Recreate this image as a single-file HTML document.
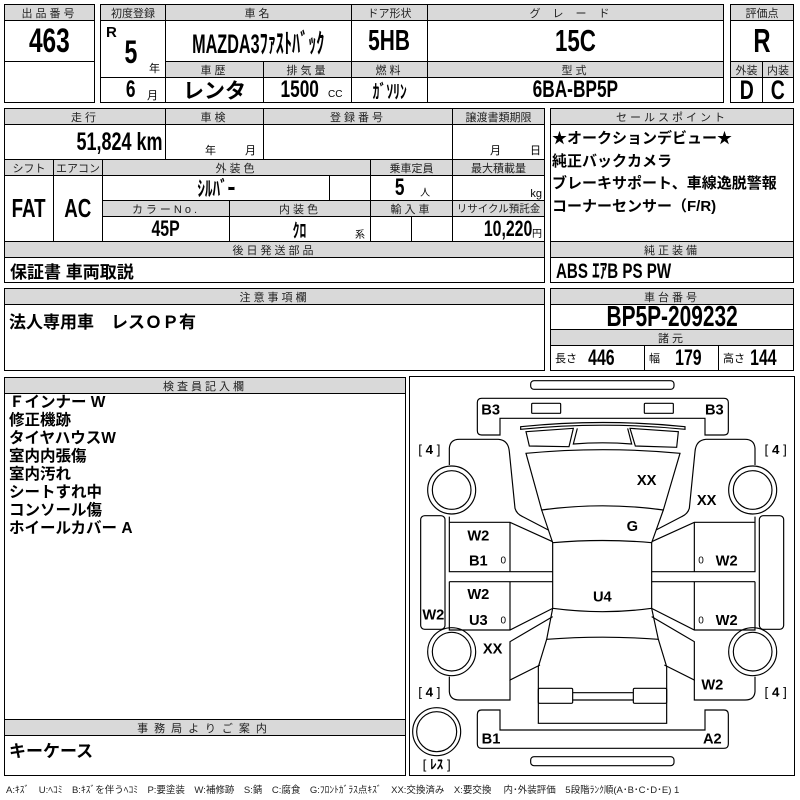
<!DOCTYPE html>
<html><head><meta charset="utf-8">
<style>
*{margin:0;padding:0;box-sizing:border-box}
body{width:800px;height:800px;background:#fff;position:relative;overflow:hidden;font-family:"Liberation Sans","Noto Sans CJK JP",sans-serif;color:#000}
.c{position:absolute;border:1px solid #000;display:flex;align-items:center;justify-content:center;white-space:nowrap;overflow:visible}
.h{background:#d9d9d9;font-size:11px;letter-spacing:3px;color:#222}
.v{font-weight:bold;font-size:22px}
.n{transform:scaleX(0.72);display:inline-block}
.l{justify-content:flex-start;padding-left:5px}
.t{position:absolute;white-space:nowrap}
</style></head><body>
<!-- box1 -->
<div class="c h" style="left:4px;top:4px;width:91px;height:17px">出品番号</div>
<div class="c v" style="left:4px;top:20px;width:91px;height:42px;font-size:34px"><span class="n">463</span></div>
<div class="c" style="left:4px;top:61px;width:91px;height:42px"></div>
<!-- box2 -->
<div class="c h" style="left:100px;top:4px;width:66px;height:17px;letter-spacing:0">初度登録</div>
<div class="c" style="left:100px;top:20px;width:66px;height:58px"></div>
<div class="t" style="left:106px;top:24px;font-size:15px;font-weight:bold">R</div>
<div class="t" style="left:122px;top:34px;font-size:32px;font-weight:bold"><span class="n">5</span></div>
<div class="t" style="left:149px;top:60px;font-size:11px">年</div>
<div class="c" style="left:100px;top:77px;width:66px;height:26px"></div>
<div class="t" style="left:124px;top:76px;font-size:24px;font-weight:bold"><span class="n">6</span></div>
<div class="t" style="left:147px;top:87px;font-size:11px">月</div>
<div class="c h" style="left:165px;top:4px;width:187px;height:17px">車名</div>
<div class="c v" style="left:165px;top:20px;width:187px;height:42px;font-size:27px"><span class="n" style="transform:scaleX(0.6)">MAZDA3ﾌｧｽﾄﾊﾞｯｸ</span></div>
<div class="c h" style="left:351px;top:4px;width:77px;height:17px;letter-spacing:0">ドア形状</div>
<div class="c v" style="left:351px;top:20px;width:77px;height:42px;font-size:29px"><span class="n">5HB</span></div>
<div class="c h" style="left:427px;top:4px;width:297px;height:17px;letter-spacing:12px">グレード</div>
<div class="c v" style="left:427px;top:20px;width:297px;height:42px;font-size:31px"><span class="n">15C</span></div>
<div class="c h" style="left:165px;top:61px;width:99px;height:17px">車歴</div>
<div class="c h" style="left:263px;top:61px;width:89px;height:17px">排気量</div>
<div class="c h" style="left:351px;top:61px;width:77px;height:17px">燃料</div>
<div class="c h" style="left:427px;top:61px;width:297px;height:17px">型式</div>
<div class="c v" style="left:165px;top:77px;width:99px;height:26px;font-size:21px">レンタ</div>
<div class="c v" style="left:263px;top:77px;width:89px;height:26px;font-size:24px"><span class="n">1500</span><span style="font-size:10px;font-weight:normal;margin-left:2px;margin-top:8px">CC</span></div>
<div class="c v" style="left:351px;top:77px;width:77px;height:26px;font-size:19px"><span class="n">ｶﾞｿﾘﾝ</span></div>
<div class="c v" style="left:427px;top:77px;width:297px;height:26px;font-size:24px"><span class="n">6BA-BP5P</span></div>
<!-- box3 -->
<div class="c h" style="left:730px;top:4px;width:64px;height:17px;letter-spacing:0">評価点</div>
<div class="c v" style="left:730px;top:20px;width:64px;height:42px;font-size:33px"><span class="n">R</span></div>
<div class="c h" style="left:730px;top:61px;width:33px;height:17px;letter-spacing:0">外装</div>
<div class="c h" style="left:762px;top:61px;width:32px;height:17px;letter-spacing:0">内装</div>
<div class="c v" style="left:730px;top:77px;width:33px;height:26px;font-size:27px"><span class="n">D</span></div>
<div class="c v" style="left:762px;top:77px;width:32px;height:26px;font-size:27px"><span class="n">C</span></div>
<!-- block2 -->
<div class="c h" style="left:4px;top:108px;width:162px;height:17px">走行</div>
<div class="c h" style="left:165px;top:108px;width:99px;height:17px">車検</div>
<div class="c h" style="left:263px;top:108px;width:190px;height:17px">登録番号</div>
<div class="c h" style="left:452px;top:108px;width:93px;height:17px;letter-spacing:0">譲渡書類期限</div>
<div class="c v" style="left:4px;top:124px;width:162px;height:36px;justify-content:flex-end;padding-right:2px;font-size:25px"><span class="n" style="transform-origin:right">51,824 km</span></div>
<div class="c" style="left:165px;top:124px;width:99px;height:36px"></div>
<div class="t" style="left:205px;top:142px;font-size:11px">年</div><div class="t" style="left:245px;top:142px;font-size:11px">月</div>
<div class="c" style="left:263px;top:124px;width:190px;height:36px"></div>
<div class="c" style="left:452px;top:124px;width:93px;height:36px"></div>
<div class="t" style="left:490px;top:142px;font-size:11px">月</div><div class="t" style="left:530px;top:142px;font-size:11px">日</div>
<div class="c h" style="left:4px;top:159px;width:50px;height:17px;letter-spacing:0">シフト</div>
<div class="c h" style="left:53px;top:159px;width:50px;height:17px;letter-spacing:0">エアコン</div>
<div class="c h" style="left:102px;top:159px;width:269px;height:17px">外装色</div>
<div class="c h" style="left:370px;top:159px;width:83px;height:17px;letter-spacing:0">乗車定員</div>
<div class="c h" style="left:452px;top:159px;width:93px;height:17px;letter-spacing:0">最大積載量</div>
<div class="c v" style="left:4px;top:175px;width:50px;height:67px;font-size:26px"><span class="n">FAT</span></div>
<div class="c v" style="left:53px;top:175px;width:50px;height:67px;font-size:26px"><span class="n">AC</span></div>
<div class="c v" style="left:102px;top:175px;width:228px;height:26px;font-size:21px"><span class="n">ｼﾙﾊﾞｰ</span></div>
<div class="c" style="left:329px;top:175px;width:42px;height:26px"></div>
<div class="c v" style="left:370px;top:175px;width:83px;height:26px;font-size:24px"><span class="n">5</span><span style="font-size:10px;font-weight:normal;margin-left:14px;margin-top:6px">人</span></div>
<div class="c" style="left:452px;top:175px;width:93px;height:26px;justify-content:flex-end;align-items:flex-end;font-size:11px;padding-right:2px">kg</div>
<div class="c h" style="left:102px;top:200px;width:128px;height:17px">カラーNo.</div>
<div class="c h" style="left:229px;top:200px;width:142px;height:17px">内装色</div>
<div class="c h" style="left:370px;top:200px;width:83px;height:17px">輸入車</div>
<div class="c h" style="left:452px;top:200px;width:93px;height:17px;letter-spacing:0;font-size:10.5px">リサイクル預託金</div>
<div class="c v" style="left:102px;top:216px;width:128px;height:26px;font-size:22px"><span class="n">45P</span></div>
<div class="c v" style="left:229px;top:216px;width:142px;height:26px;font-size:19px"><span class="n">ｸﾛ</span></div>
<div class="t" style="left:355px;top:226px;font-size:10px">系</div>
<div class="c" style="left:370px;top:216px;width:42px;height:26px"></div>
<div class="c" style="left:411px;top:216px;width:42px;height:26px"></div>
<div class="c v" style="left:452px;top:216px;width:93px;height:26px;justify-content:flex-end;font-size:22px"><span class="n" style="transform-origin:right">10,220</span><span style="font-size:10px;font-weight:normal;margin-top:6px;margin-right:2px">円</span></div>
<div class="c h" style="left:4px;top:241px;width:541px;height:17px">後日発送部品</div>
<div class="c v l" style="left:4px;top:257px;width:541px;height:26px;font-size:17px">保証書 車両取説</div>
<!-- sales -->
<div class="c h" style="left:550px;top:108px;width:244px;height:17px">セールスポイント</div>
<div class="c" style="left:550px;top:124px;width:244px;height:118px"></div>
<div class="t" style="left:552px;top:128px;font-size:15px;font-weight:bold;line-height:22.5px">★オークションデビュー★<br>純正バックカメラ<br>ブレーキサポート、車線逸脱警報<br>コーナーセンサー（F/R)</div>
<div class="c h" style="left:550px;top:241px;width:244px;height:17px">純正装備</div>
<div class="c v l" style="left:550px;top:257px;width:244px;height:26px;font-size:21px"><span class="n" style="transform-origin:left">ABS ｴｱB PS PW</span></div>
<!-- block3 -->
<div class="c h" style="left:4px;top:288px;width:541px;height:17px">注意事項欄</div>
<div class="c" style="left:4px;top:304px;width:541px;height:67px"></div>
<div class="t" style="left:9px;top:308px;font-size:17px;font-weight:bold">法人専用車　レスＯＰ有</div>
<div class="c h" style="left:550px;top:288px;width:244px;height:17px">車台番号</div>
<div class="c v" style="left:550px;top:304px;width:244px;height:26px;font-size:29px"><span class="n">BP5P-209232</span></div>
<div class="c h" style="left:550px;top:329px;width:244px;height:17px">諸元</div>
<div class="c" style="left:550px;top:345px;width:95px;height:26px;justify-content:flex-start;padding-left:4px"><span style="font-size:11px">長さ</span><b style="font-size:22px;margin-left:6px" class="n">446</b></div>
<div class="c" style="left:644px;top:345px;width:75px;height:26px;justify-content:flex-start;padding-left:4px"><span style="font-size:11px">幅</span><b style="font-size:22px;margin-left:10px" class="n">179</b></div>
<div class="c" style="left:718px;top:345px;width:76px;height:26px;justify-content:flex-start;padding-left:4px"><span style="font-size:11px">高さ</span><b style="font-size:22px;margin-left:0" class="n">144</b></div>
<!-- inspector -->
<div class="c" style="left:4px;top:377px;width:402px;height:399px"></div>
<div class="c h" style="left:4px;top:377px;width:402px;height:17px">検査員記入欄</div>
<div class="t" style="left:9px;top:394px;font-size:15.5px;font-weight:bold;line-height:18px">Ｆインナー W<br>修正機跡<br>タイヤハウスW<br>室内内張傷<br>室内汚れ<br>シートすれ中<br>コンソール傷<br>ホイールカバー A</div>
<div class="c h" style="left:4px;top:719px;width:402px;height:17px;letter-spacing:6px">事務局よりご案内</div>
<div class="t" style="left:9px;top:737px;font-size:17px;font-weight:bold">キーケース</div>
<!-- diagram -->
<div class="c" style="left:409px;top:376px;width:386px;height:400px"></div>
<svg style="position:absolute;left:400px;top:370px" width="400" height="430" viewBox="0 0 1200 1290">
<g fill="none" stroke="#000" stroke-width="3.5">
<rect x="392" y="32" width="430" height="26" rx="10"/>
<rect x="392" y="1160" width="430" height="27" rx="10"/>
<path d="M300,195 L245,195 Q232,195 232,182 L232,98 Q232,85 245,85 L972,85 Q985,85 985,98 L985,182 Q985,195 972,195 L915,195 L915,145 L300,145 Z"/>
<path d="M300,1020 L300,1080 L915,1080 L915,1020 L972,1020 Q985,1020 985,1033 L985,1122 Q985,1135 972,1135 L245,1135 Q232,1135 232,1122 L232,1033 Q232,1020 245,1020 Z"/>
<rect x="395" y="100" width="87" height="30" rx="3"/>
<rect x="733" y="100" width="87" height="30" rx="3"/>
<path d="M362,170 Q608,145 855,170 L855,178 Q608,153 362,178 Z"/>
<path d="M378,185 L520,175 L507,230 L388,228 Z"/>
<path d="M690,175 L835,185 L830,232 L706,228 Z"/>
<path d="M532,175 L520,222 Q608,215 695,222 L683,175"/>
<path d="M378,250 Q608,228 840,250 L790,420 Q608,395 425,420 Z"/>
<path d="M425,420 L458,518 Q608,505 755,518 L790,420"/>
<path d="M458,518 L458,715 Q608,735 755,715 L755,518"/>
<path d="M458,715 L440,808 Q608,795 775,808 L755,715"/>
<path d="M440,808 L415,890 L415,1060 L800,1060 L800,890 L775,808"/>
<rect x="415" y="955" width="103" height="45" rx="4"/>
<rect x="700" y="955" width="100" height="45" rx="4"/>
<path d="M518,968 L700,968 M518,990 L700,990"/>
<g id="L">
<path d="M148,285 L148,235 Q150,208 178,208 L295,208 Q325,210 328,245 L345,415 Q350,432 368,440 L445,480"/>
<path d="M148,440 L148,457 L330,457 L458,515 M330,457 L330,605 M148,457 L148,605 L458,605 M148,635 L458,635 M148,635 L148,780 L330,780 L458,715 M330,635 L330,780"/>
<path d="M458,740 L330,815 L330,930 L420,885"/>
<path d="M148,920 L148,965 Q150,990 178,990 L330,990 L330,930"/>
<circle cx="155" cy="360" r="72"/><circle cx="155" cy="360" r="58"/>
<circle cx="155" cy="845" r="72"/><circle cx="155" cy="845" r="58"/>
<rect x="62" y="437" width="73" height="341" rx="12"/>
</g>
<use href="#L" transform="translate(1213,0) scale(-1,1)"/>
<circle cx="110" cy="1085" r="72"/><circle cx="110" cy="1085" r="60"/>
</g>
<g font-family="Liberation Sans, Noto Sans CJK JP, sans-serif" font-weight="bold" font-size="44" text-anchor="middle">
<text x="272" y="133">B3</text><text x="943" y="133">B3</text>
<text x="740" y="345">XX</text><text x="920" y="405">XX</text>
<text x="697" y="483">G</text>
<text x="235" y="512">W2</text><text x="235" y="587">B1</text>
<text x="980" y="587">W2</text>
<text x="607" y="695">U4</text>
<text x="235" y="687">W2</text><text x="235" y="765">U3</text>
<text x="100" y="748">W2</text>
<text x="980" y="765">W2</text>
<text x="278" y="850">XX</text>
<text x="937" y="958">W2</text>
<text x="273" y="1120">B1</text><text x="937" y="1120">A2</text>
</g>
<g font-family="Liberation Sans, Noto Sans CJK JP, sans-serif" font-size="40" text-anchor="middle">
<text x="88" y="252">[ <tspan font-weight="bold">4</tspan> ]</text>
<text x="1127" y="252">[ <tspan font-weight="bold">4</tspan> ]</text>
<text x="88" y="980">[ <tspan font-weight="bold">4</tspan> ]</text>
<text x="1127" y="980">[ <tspan font-weight="bold">4</tspan> ]</text>
<text x="110" y="1197">[ <tspan font-weight="bold">ﾚｽ</tspan> ]</text>
<text x="310" y="580" font-size="30">0</text><text x="903" y="580" font-size="30">0</text>
<text x="310" y="760" font-size="30">0</text><text x="903" y="760" font-size="30">0</text>
</g>
</svg>
<div class="t" style="left:6px;top:782px;font-size:9.5px;color:#222">A:ｷｽﾞ　U:ﾍｺﾐ　B:ｷｽﾞを伴うﾍｺﾐ　P:要塗装　W:補修跡　S:錆　C:腐食　G:ﾌﾛﾝﾄｶﾞﾗｽ点ｷｽﾞ　XX:交換済み　X:要交換　 内･外装評価　5段階ﾗﾝｸ順(A･B･C･D･E) 1</div>
</body></html>
